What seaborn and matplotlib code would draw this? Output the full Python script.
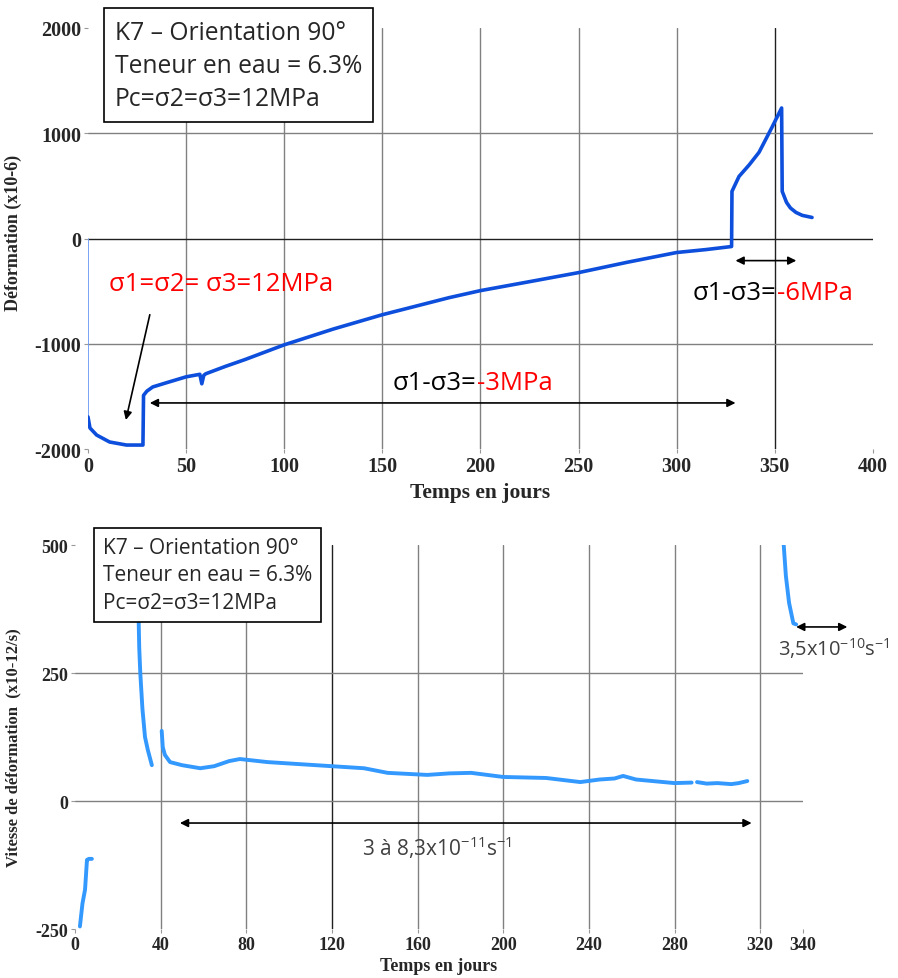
import matplotlib
matplotlib.use("Agg")
import matplotlib.pyplot as plt
import seaborn as sns
import pandas as pd

# --- Déformation (x10-6) vs temps (jours) ---
t_load = [0, 0]
d_load = [0, -1700]

t_def = [0, 1, 4.4, 11, 19.6, 28, 28.3, 30, 33, 40, 50, 57, 58, 59, 60, 70, 80, 100,
         125, 150, 184, 200, 225, 250, 275, 300, 315, 328,
         328.2, 331.8, 337, 342, 348.6, 353.5,
         353.8, 356, 358, 360.8, 364, 369]
d_def = [-1695, -1800, -1867, -1933, -1962, -1962, -1490, -1450, -1410, -1370, -1314, -1290,
         -1380, -1300, -1285, -1215, -1150, -1010,
         -860, -724, -562, -495, -410, -324, -225, -133, -105, -76,
         448, 590, 700, 819, 1057, 1240,
         448, 343, 290, 248, 220, 200]

# --- Vitesse de déformation (x10-12/s) ---
t_v1 = [2.3, 3.5, 4.7, 5.6, 6.5, 7.9]
v_v1 = [-245, -200, -173, -115, -113, -113]
t_v2 = [29.2, 29.5, 30, 30.5, 31.5, 32.7, 34, 35.9]
v_v2 = [500, 400, 300, 250, 180, 125, 100, 70]
t_v3 = [40.5, 41, 42, 44.4, 50, 58.5, 65, 72, 77, 90, 105, 120, 135, 146, 164.5,
        175, 185, 200, 220, 236, 245, 252, 256, 262, 280, 288]
v_v3 = [137, 105, 90, 76, 70, 64, 68, 78, 82, 76, 72, 68, 64, 55, 51,
        54, 55, 47, 45, 37, 42, 44, 49, 42, 35, 36]
t_v4 = [290.5, 295, 300, 306.5, 310, 314]
v_v4 = [37, 34, 35, 33, 35, 39]
t_v5 = [331, 332, 333.5, 335.5, 336.8]
v_v5 = [500, 440, 387, 347, 345]

x_ticks_top = [0, 50, 100, 150, 200, 250, 300, 350, 400]
y_ticks_top = [-2000, -1000, 0, 1000, 2000]
x_ticks_bot = [0, 40, 80, 120, 160, 200, 240, 280, 320, 340]
y_ticks_bot = [-250, 0, 250, 500]

info = "K7 – Orientation 90°\nTeneur en eau = 6.3%\nPc=σ2=σ3=12MPa"

sns.set_style("white")
plt.rcParams["font.family"] = ["Open Sans", "DejaVu Sans"]
plt.rcParams["mathtext.default"] = "regular"
plt.rcParams["axes.unicode_minus"] = False

serif = {"family": "Liberation Serif", "weight": "bold"}
blue_dark = "#0d4fdc"
blue_light = "#3399ff"
arrow = dict(arrowstyle="<|-|>", color="black", lw=1.2, mutation_scale=12,
             shrinkA=0, shrinkB=0)

fig = plt.figure(figsize=(8.98, 9.79), dpi=100)
ax1 = fig.add_axes([0.098, 0.5403, 0.874, 0.4301])
ax2 = fig.add_axes([0.0835, 0.05005, 0.8107, 0.3922])


def style_axis(ax, xt, yt, dark_x, dark_y, size):
    ax.set_xticks(xt)
    ax.set_yticks(yt)
    ax.set_xlim(xt[0], xt[-1])
    ax.set_ylim(yt[0], yt[-1])
    for s in ax.spines.values():
        s.set_visible(False)
    ax.grid(True, color="#808080", lw=1)
    for i, g in enumerate(ax.get_xgridlines()):
        if i == 0 or i == len(xt) - 1:
            g.set_visible(False)
        elif xt[i] == dark_x:
            g.set_color("#202020")
    for i, g in enumerate(ax.get_ygridlines()):
        if i == 0 or i == len(yt) - 1:
            g.set_visible(False)
        elif yt[i] == dark_y:
            g.set_color("#202020")
    ax.tick_params(axis="both", length=3, width=0.8, color="#999999", pad=2,
                   labelsize=size, bottom=True, left=True)
    for lab in ax.get_xticklabels() + ax.get_yticklabels():
        lab.set_fontfamily(serif["family"])
        lab.set_fontweight("bold")
    ax.set_axisbelow(True)


# ---------------- top panel ----------------
sns.lineplot(x=t_load, y=d_load, ax=ax1, color="#6f9cf5", lw=1.3, sort=False,
             estimator=None)
sns.lineplot(x=t_def, y=d_def, ax=ax1, color=blue_dark, lw=2.6, sort=False,
             estimator=None)
style_axis(ax1, x_ticks_top, y_ticks_top, 350, 0, 14.5)
ax1.set_xlabel("Temps en jours", fontsize=15.5, **serif)
ax1.set_ylabel("Déformation (x10-6)", fontsize=13, **serif)
ax1.xaxis.set_label_coords(0.5, -0.078)
ax1.yaxis.set_label_coords(-0.084, 0.515)

ax1.text(0.034, 1.02, info, transform=ax1.transAxes, ha="left", va="top",
         fontsize=17.7, linespacing=1.42,
         bbox=dict(boxstyle="square,pad=0.45", fc="white", ec="black", lw=1.2))

ax1.text(10.5, -430, "σ1=σ2= σ3=12MPa", color="red", fontsize=18.5, ha="left",
         va="center")
ax1.annotate("", xy=(19.3, -1724), xytext=(31.5, -724),
             arrowprops=dict(arrowstyle="-|>", color="black", lw=1.2,
                             mutation_scale=12, shrinkA=0, shrinkB=0))
ax1.annotate("", xy=(31.5, -1562), xytext=(330, -1562), arrowprops=arrow)
ax1.text(198, -1364, "σ1-σ3=", color="black", fontsize=18.5, ha="right", va="center")
ax1.text(198, -1364, "-3MPa", color="red", fontsize=18.5, ha="left", va="center")
ax1.annotate("", xy=(330, -210), xytext=(361, -210), arrowprops=arrow)
ax1.text(351, -514, "σ1-σ3=", color="black", fontsize=18.5, ha="right", va="center")
ax1.text(351, -514, "-6MPa", color="red", fontsize=18.5, ha="left", va="center")

# ---------------- bottom panel ----------------
for tx, vy in [(t_v1, v_v1), (t_v2, v_v2), (t_v3, v_v3), (t_v4, v_v4), (t_v5, v_v5)]:
    sns.lineplot(x=tx, y=vy, ax=ax2, color=blue_light, lw=2.8, sort=False,
                 estimator=None)
style_axis(ax2, x_ticks_bot, y_ticks_bot, 120, None, 13)
ax2.set_xlabel("Temps en jours", fontsize=13, **serif)
ax2.set_ylabel("Vitesse de déformation  (x10-12/s)", fontsize=12, **serif)
ax2.xaxis.set_label_coords(0.5, -0.072)
ax2.yaxis.set_label_coords(-0.073, 0.475)

ax2.text(0.038, 1.021, info, transform=ax2.transAxes, ha="left", va="top",
         fontsize=15, linespacing=1.4, zorder=5,
         bbox=dict(boxstyle="square,pad=0.42", fc="white", ec="black", lw=1.2))

ax2.annotate("", xy=(49, -43), xytext=(316, -43), arrowprops=arrow)
ax2.text(169, -90, "3 à 8,3x10$^{-11}$s$^{-1}$", color="#404040", fontsize=15,
         ha="center", va="center")
ax2.annotate("", xy=(336.8, 340), xytext=(360.7, 340), arrowprops=arrow,
             annotation_clip=False)
ax2.text(328.3, 300, "3,5x10$^{-10}$s$^{-1}$", color="#404040", fontsize=14.5,
         ha="left", va="center", clip_on=False)

fig.savefig("out.png", dpi=100)
